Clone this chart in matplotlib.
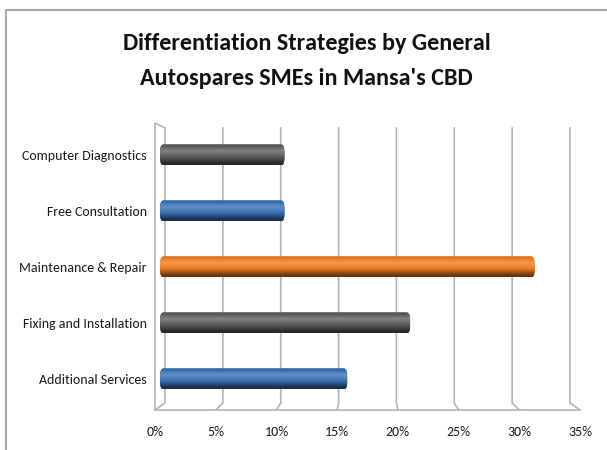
import numpy as np
import matplotlib
matplotlib.use("Agg")
import matplotlib.pyplot as plt
from matplotlib.colors import LinearSegmentedColormap, to_rgb
from matplotlib.lines import Line2D
from matplotlib.patches import FancyBboxPatch

# ---- data ----
categories = ["Additional Services", "Fixing and Installation", "Maintenance & Repair",
              "Free Consultation", "Computer Diagnostics"]
values = [15.8, 21.1, 31.6, 10.5, 10.5]
bar_colors = ["#3a70b4", "#5e5e5e", "#ee7b22", "#3a70b4", "#5e5e5e"]
x_ticks = [0, 5, 10, 15, 20, 25, 30, 35]
x_tick_labels = ["0%", "5%", "10%", "15%", "20%", "25%", "30%", "35%"]
title = "Differentiation Strategies by General\nAutospares SMEs in Mansa's CBD"

W, H = 607, 450
fig = plt.figure(figsize=(W / 100, H / 100), dpi=100)
fig.patch.set_facecolor("white")

# figure border (top and left)
fig.add_artist(Line2D([6 / W, 6 / W], [0, 1 - 10 / H], color="#a8a8a8", lw=1.5))
fig.add_artist(Line2D([6 / W, 1], [1 - 10 / H, 1 - 10 / H], color="#a8a8a8", lw=1.5))

FONT = ["Carlito", "PT Sans Narrow", "DejaVu Sans"]
fig.text(0.505, 1 - 61 / H, title, ha="center", va="center", fontsize=17.4,
         fontweight="bold", family=FONT, linespacing=1.8, color="#111111")

# axes in mid-depth plane
ax = fig.add_axes([160 / W, 1 - 410 / H, 415 / W, 287 / H])
xmax = 35.0
PX = 415 / xmax           # px per data unit (mid plane)
PY = 287 / (0.554 + 4.571)  # px per y unit
ax.set_xlim(0, xmax)
ax.set_ylim(-0.554, 4.571)
for s in ax.spines.values():
    s.set_visible(False)
ax.set_xticks([])
ax.set_yticks(range(len(categories)))
ax.set_yticklabels(categories, family=FONT, fontsize=10, color="#1a1a1a")
ax.tick_params(axis="y", length=0, pad=9.5)

def back(v):
    return (5 + (405 / xmax) * v) / PX

def front(v):
    return (-5 + (425 / xmax) * v) / PX

y_front_bot = -0.554
y_back_bot = y_front_bot + 7 / PY
y_front_top = 4.571
y_back_top = y_front_top - 5 / PY

gc = "#b4b4b4"
glw = 1.2
for v in x_ticks:
    ax.plot([back(v), back(v), front(v)], [y_back_top, y_back_bot, y_front_bot],
            color=gc, lw=glw, clip_on=False, zorder=1, solid_joinstyle="miter")
# left wall front edge + top
ax.plot([back(0), front(0), front(0)], [y_back_top, y_front_top, y_front_bot],
        color=gc, lw=glw, clip_on=False, zorder=1)
# floor front edge
ax.plot([front(0), front(xmax)], [y_front_bot, y_front_bot],
        color=gc, lw=glw, clip_on=False, zorder=1)

# tick labels along front edge
for v, lab in zip(x_ticks, x_tick_labels):
    ax.text(front(v), y_front_bot - 22 / PY, lab, ha="center", va="center",
            family=FONT, fontsize=10, color="#1a1a1a", clip_on=False)

# bars with cylinder shading
bh = 21 / PY
bars = ax.barh(range(len(categories)), values, height=bh, color=bar_colors,
               edgecolor="none", zorder=3)
rx = 3.5 / PX
asp = (8 / PY) / rx
for bar, c in zip(bars, bar_colors):
    base = np.array(to_rgb(c))
    light = np.clip(base + (1 - base) * 0.22, 0, 1)
    dark = base * 0.5
    mid = base * 0.8
    cmap = LinearSegmentedColormap.from_list(
        "cyl", [(0.0, mid), (0.12, base), (0.32, light), (0.6, base), (0.88, dark), (1.0, base * 0.4)])
    x0, y0 = bar.get_x(), bar.get_y()
    w, h = bar.get_width(), bar.get_height()
    shape = FancyBboxPatch((x0, y0), w, h, boxstyle=f"round,pad=0,rounding_size={rx}",
                           mutation_aspect=asp, transform=ax.transData)
    bar.set_clip_path(shape)
    grad = np.linspace(0, 1, 64).reshape(-1, 1)
    im = ax.imshow(grad, cmap=cmap, aspect="auto", extent=(x0, x0 + w, y0, y0 + h),
                   origin="upper", zorder=4, interpolation="bilinear")
    im.set_clip_path(shape)

ax.set_xlim(0, xmax)
ax.set_ylim(-0.554, 4.571)

fig.savefig("out.png", dpi=100, facecolor="white")
